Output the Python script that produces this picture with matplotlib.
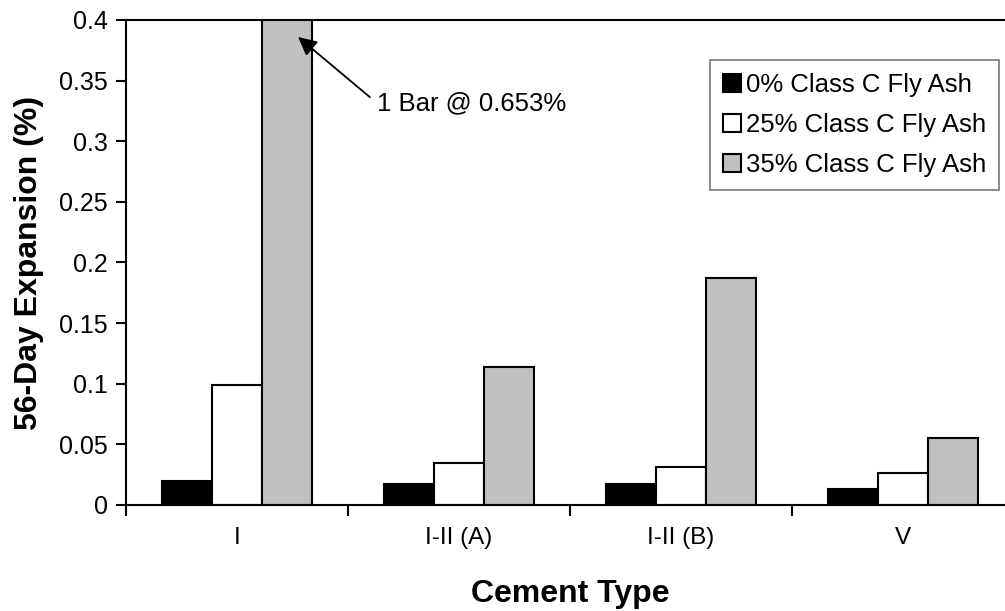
import numpy as np
import matplotlib.pyplot as plt
from matplotlib.ticker import FixedLocator, NullFormatter

plt.rcParams['font.family'] = ['Liberation Sans', 'DejaVu Sans']

# 56-day expansion by cement type and fly ash replacement
cement_types = ["I", "I-II (A)", "I-II (B)", "V"]
series_names = ["0% Class C Fly Ash", "25% Class C Fly Ash", "35% Class C Fly Ash"]
ash_0 = [0.020, 0.017, 0.017, 0.013]
ash_25 = [0.099, 0.035, 0.031, 0.026]
ash_35 = [0.653, 0.114, 0.187, 0.055]
colors = ["black", "white", "#C0C0C0"]

fig = plt.figure(figsize=(10.05, 6.11), dpi=100)
ax = fig.add_axes([0.1254, 0.1735, 0.8836, 0.7938])

x = np.arange(len(cement_types))
w = 0.225
for k, (vals, c, name) in enumerate(zip([ash_0, ash_25, ash_35], colors, series_names)):
    ax.bar(x + (k - 1) * w, vals, w, color=c, edgecolor="black", linewidth=1.5, label=name)

ax.set_xlim(-0.5, len(cement_types) - 0.5)
ax.set_ylim(0, 0.4)
ax.set_yticks([0, 0.05, 0.1, 0.15, 0.2, 0.25, 0.3, 0.35, 0.4])
ax.set_yticklabels(["0", "0.05", "0.1", "0.15", "0.2", "0.25", "0.3", "0.35", "0.4"])
ax.set_xticks(x)
ax.set_xticklabels(cement_types)
ax.xaxis.set_minor_locator(FixedLocator(np.arange(-0.5, len(cement_types), 1.0)))
ax.xaxis.set_minor_formatter(NullFormatter())
ax.tick_params(axis="x", which="major", length=0, pad=16, labelsize=17.5)
ax.tick_params(axis="x", which="minor", length=8, width=1.5, direction="out")
ax.tick_params(axis="y", length=7, width=1.5, direction="out", labelsize=18, pad=6)

for s in ["left", "bottom", "top"]:
    ax.spines[s].set_linewidth(1.5)
ax.spines["right"].set_visible(False)

ax.set_ylabel("56-Day Expansion (%)", fontsize=23, fontweight="bold")
ax.set_xlabel("Cement Type", fontsize=23, fontweight="bold")
ax.yaxis.set_label_coords(-0.1098, 0.5)
ax.xaxis.set_label_coords(0.5, -0.184)
ax.xaxis.label.set_va("center")
ax.yaxis.label.set_va("center")

# first gray bar runs off the axis, label its real height
ax.annotate("1 Bar @ 0.653%", xy=(0.275, 0.386), xytext=(0.63, 0.3315),
            fontsize=18.5, ha="left", va="center",
            arrowprops=dict(arrowstyle="-|>", color="black", lw=1.3,
                            mutation_scale=28, shrinkA=4, shrinkB=0,
                            relpos=(0, 0.5)))

leg = ax.legend(loc="upper left", bbox_to_anchor=(0.658, 0.917), fontsize=18.5,
                frameon=True, fancybox=False, handlelength=0.7, handleheight=0.7,
                handletextpad=0.2, borderpad=0.5, labelspacing=0.62,
                borderaxespad=0)
leg.get_frame().set_edgecolor("#555555")
leg.get_frame().set_linewidth(1.2)

fig.savefig("out.png", dpi=100)
